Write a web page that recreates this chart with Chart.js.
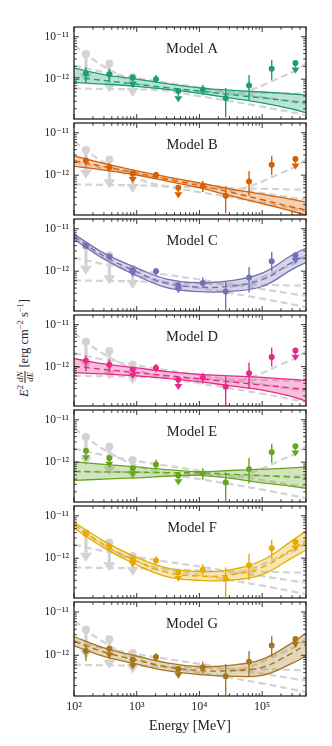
<!DOCTYPE html>
<html>
<head>
<meta charset="utf-8">
<script src="https://cdn.jsdelivr.net/npm/chart.js@4.4.1/dist/chart.umd.min.js"></script>
<style>
  body { margin: 0; background: #fff; }
  #wrap { position: relative; width: 332px; height: 746px; overflow: hidden;
          font-family: "Liberation Serif", "DejaVu Serif", serif; color: #222; }
  #wrap canvas { position: absolute; left: 0; }
  #ylabel { position: absolute; left: 25px; top: 348px; white-space: nowrap; font-size: 12.5px;
            transform: translate(-50%, -50%) rotate(-90deg); }
  #ylabel sup { font-size: 0.68em; line-height: 0; }
  .frac { display: inline-block; vertical-align: middle; text-align: center; font-size: 9px;
          line-height: 9px; margin: 0 3px 0 2px; }
  .frac span { display: block; padding: 0 1px; }
  .frac span:first-child { border-bottom: 0.8px solid #222; }
</style>
</head>
<body>
<div id="wrap">
  <div id="ylabel"><i>E</i><sup>2</sup><span class="frac"><span><i>dN</i></span><span><i>dE</i></span></span>[erg cm<sup>−2</sup> s<sup>−1</sup>]</div>
</div>
<script>
// fluxes below are in units of 1e-12 erg cm^-2 s^-1
const FLUX_UNIT = 1e-12;

const modelNames = ["Model A", "Model B", "Model C", "Model D", "Model E", "Model F", "Model G"];
const modelColors = ["#1b9e77", "#d95f02", "#7570b3", "#e7298a", "#66a61e", "#e6ab02", "#a6761d"];

const xTickValues = [1e2, 1e3, 1e4, 1e5];
const xTickLabels = ["10²", "10³", "10⁴", "10⁵"];
const yTickValues = [1e-11, 1e-12];
const yTickLabels = ["10⁻¹¹", "10⁻¹²"];

// spectral points (same energies in every panel)
const pointEnergy = [155, 366, 863, 2030, 4610, 11300, 26200, 61800, 142000, 339000];
const pointFlux = [
  [1.36, 1.30, 1.09, 1.00, 0.525, 0.573, 0.354, 0.705, 1.77, 2.42],
  [2.21, 1.55, 1.10, 1.01, 0.506, 0.55, 0.327, 0.713, 1.76, 2.41],
  [4.0, 2.22, 1.05, 1.0, 0.466, 0.527, 0.33, 0.705, 1.71, 2.38],
  [1.38, 1.10, 0.85, 0.93, 0.488, 0.553, 0.329, 0.691, 1.70, 2.41],
  [1.86, 1.25, 0.72, 0.887, 0.483, 0.544, 0.33, 0.683, 1.71, 2.38],
  [3.72, 1.92, 0.93, 0.88, 0.466, 0.533, 0.329, 0.68, 1.71, 2.41],
  [1.26, 1.41, 0.79, 0.92, 0.485, 0.527, 0.33, 0.709, 1.69, 2.38]
];
const pointHigh = [
  [1.92, 1.77, 1.09, 1.25, 0.525, 0.743, 0.626, 1.25, 2.83, 2.42],
  [2.62, 1.91, 1.10, 1.20, 0.506, 0.74, 0.55, 1.26, 2.86, 2.41],
  [4.58, 2.51, 1.05, 1.19, 0.466, 0.705, 0.573, 1.25, 2.83, 2.38],
  [1.85, 1.48, 0.85, 1.16, 0.488, 0.716, 0.60, 1.25, 2.86, 2.41],
  [1.86, 1.25, 0.72, 1.15, 0.483, 0.72, 0.573, 1.25, 2.73, 2.38],
  [4.26, 2.29, 0.93, 1.10, 0.466, 0.716, 0.604, 1.27, 2.73, 2.41],
  [1.78, 1.41, 0.79, 1.12, 0.485, 0.709, 0.629, 1.26, 2.74, 2.38]
];
const pointLow = [
  [0.81, 0.88, 0.626, 0.81, 0.287, 0.42, 0.125, 0.312, 0.964, 1.36],
  [1.70, 1.20, 0.656, 0.81, 0.286, 0.40, 0.126, 0.327, 1.01, 1.36],
  [3.54, 1.93, 0.743, 0.78, 0.303, 0.392, 0.12, 0.314, 1.0, 1.49],
  [0.78, 0.735, 0.506, 0.735, 0.276, 0.39, 0.116, 0.301, 1.01, 1.38],
  [1.05, 0.743, 0.442, 0.683, 0.287, 0.386, 0.12, 0.314, 0.964, 1.36],
  [3.24, 1.56, 0.604, 0.716, 0.277, 0.39, 0.12, 0.301, 0.964, 1.43],
  [0.75, 0.84, 0.468, 0.743, 0.289, 0.374, 0.12, 0.314, 0.934, 1.49]
];
const upperLimit = [
  [0, 0, 1, 0, 1, 0, 0, 0, 0, 1],
  [0, 0, 1, 0, 1, 0, 0, 0, 0, 1],
  [0, 0, 1, 0, 1, 0, 0, 0, 0, 1],
  [0, 0, 1, 0, 1, 0, 0, 0, 0, 1],
  [1, 1, 1, 0, 1, 0, 0, 0, 0, 1],
  [0, 0, 1, 0, 1, 0, 0, 0, 0, 1],
  [0, 1, 1, 0, 1, 0, 0, 0, 0, 1]
];

// model fits: central curve and band edges
const modelEnergy = [1e2, 3e2, 1e3, 3e3, 1e4, 3e4, 1e5, 3e5, 5e5];
const modelMid = [
  [1.11, 0.93, 0.763, 0.632, 0.525, 0.435, 0.361, 0.303, 0.277],
  [2.21, 1.59, 1.13, 0.804, 0.57, 0.403, 0.263, 0.178, 0.15],
  [6.5, 2.28, 0.964, 0.517, 0.42, 0.442, 0.626, 1.62, 2.38],
  [1.01, 0.86, 0.716, 0.61, 0.511, 0.435, 0.363, 0.309, 0.286],
  [0.607, 0.59, 0.58, 0.568, 0.556, 0.52, 0.483, 0.445, 0.428],
  [6.04, 2.10, 0.85, 0.466, 0.378, 0.399, 0.604, 1.62, 2.63],
  [2.12, 1.19, 0.775, 0.544, 0.445, 0.442, 0.527, 1.13, 1.78]
];
const modelUp = [
  [1.82, 1.28, 1.0, 0.783, 0.626, 0.553, 0.498, 0.447, 0.42],
  [2.86, 1.89, 1.26, 0.915, 0.656, 0.478, 0.357, 0.27, 0.232],
  [7.47, 2.66, 1.19, 0.652, 0.535, 0.588, 0.90, 2.40, 3.52],
  [1.56, 1.16, 0.93, 0.763, 0.656, 0.604, 0.553, 0.496, 0.463],
  [1.02, 0.892, 0.771, 0.67, 0.594, 0.636, 0.683, 0.731, 0.771],
  [7.06, 2.53, 1.04, 0.588, 0.478, 0.53, 0.892, 2.59, 4.42],
  [2.70, 1.48, 0.964, 0.67, 0.553, 0.588, 0.81, 1.94, 3.27]
];
const modelLow = [
  [0.838, 0.763, 0.68, 0.573, 0.466, 0.363, 0.277, 0.198, 0.162],
  [1.61, 1.32, 1.01, 0.724, 0.506, 0.332, 0.213, 0.141, 0.114],
  [5.64, 1.94, 0.783, 0.409, 0.329, 0.332, 0.435, 1.10, 1.61],
  [0.716, 0.67, 0.60, 0.522, 0.44, 0.35, 0.276, 0.193, 0.15],
  [0.372, 0.399, 0.428, 0.466, 0.49, 0.42, 0.325, 0.27, 0.242],
  [5.16, 1.75, 0.691, 0.369, 0.30, 0.30, 0.409, 1.015, 1.56],
  [1.65, 0.95, 0.623, 0.442, 0.357, 0.332, 0.343, 0.652, 0.97]
];

// grey reference curves and limits (identical in all panels)
const greyEnergy = [1e2, 3e2, 1e3, 3e3, 1e4, 3e4, 1e5, 3e5, 5e5];
const greySteep = [6.26, 1.99, 0.825, 0.544, 0.399, 0.307, 0.225, 0.165, 0.141];
const greyMid = [2.10, 1.46, 1.07, 0.825, 0.636, 0.49, 0.378, 0.292, 0.263];
const greyFlat = [0.604, 0.588, 0.573, 0.544, 0.517, 0.49, 0.478, 0.46, 0.454];
const greyRiseEnergy = [3e4, 5e4, 1e5, 2e5, 3.5e5, 5e5];
const greyRise = [0.42, 0.49, 0.705, 1.13, 1.62, 2.38];
const greyLimitEnergy = [155, 366, 863];
const greyLimit = [3.92, 2.34, 1.13];
const greyLimitTip = [0.825, 0.49, 0.378];

const X_MIN = 1e2, X_MAX = 5e5, Y_MIN = 1.15e-13, Y_MAX = 1.7e-11;
const PANEL_TOP = 25, PANEL_H = 95.86, AXIS_LEFT = 74, AXIS_RIGHT = 306, WIDTH = 332, HEIGHT = 746;
const GREY = "#d3d3d3";
const INK = "#222";

function rgba(hex, a) {
  const n = parseInt(hex.slice(1), 16);
  return `rgba(${n >> 16}, ${(n >> 8) & 255}, ${n & 255}, ${a})`;
}
function toPoints(xs, ys) {
  return xs.map((e, k) => ({ x: e, y: ys[k] * FLUX_UNIT }));
}

// vertical error bars / upper-limit arrows, drawn right after their dataset
const errorBars = {
  id: "errorBars",
  afterDatasetDraw(chart, args) {
    const ds = chart.data.datasets[args.index];
    if (!ds.errHi) return;
    const { ctx, chartArea: a, scales: { x, y } } = chart;
    ctx.save();
    ctx.beginPath();
    ctx.rect(a.left, a.top, a.right - a.left, a.bottom - a.top);
    ctx.clip();
    ctx.strokeStyle = ds.barColor;
    ctx.fillStyle = ds.barColor;
    ctx.lineWidth = ds.barWidth;
    ds.data.forEach((p, k) => {
      const px = x.getPixelForValue(p.x);
      const y0 = y.getPixelForValue(ds.errHi[k] * FLUX_UNIT);
      const y1 = y.getPixelForValue(ds.errLo[k] * FLUX_UNIT);
      ctx.beginPath();
      ctx.moveTo(px, y0);
      ctx.lineTo(px, ds.ul[k] ? y1 - ds.arrow[1] : y1);
      ctx.stroke();
      if (ds.ul[k]) {
        const [w, h] = ds.arrow;
        ctx.beginPath();
        ctx.moveTo(px - w / 2, y1 - h);
        ctx.lineTo(px + w / 2, y1 - h);
        ctx.lineTo(px, y1);
        ctx.closePath();
        ctx.fill();
      }
    });
    ctx.restore();
  }
};

// frame with inward ticks on all sides + panel label
const frame = {
  id: "frame",
  afterDraw(chart, args, opts) {
    const { ctx, chartArea: a, scales: { x, y } } = chart;
    const xMinor = [], yMinor = [];
    [1e2, 1e3, 1e4, 1e5].forEach(d => { for (let k = 2; k < 10; k++) if (k * d <= X_MAX) xMinor.push(k * d); });
    [1e-13, 1e-12, 1e-11].forEach(d => { for (let k = 2; k < 10; k++) if (k * d >= Y_MIN && k * d <= Y_MAX) yMinor.push(k * d); });
    ctx.save();
    ctx.strokeStyle = INK;
    ctx.lineWidth = 0.9;
    const seg = (x0, y0, x1, y1) => { ctx.beginPath(); ctx.moveTo(x0, y0); ctx.lineTo(x1, y1); ctx.stroke(); };
    const xt = (v, len) => { const px = x.getPixelForValue(v); seg(px, a.bottom, px, a.bottom - len); seg(px, a.top, px, a.top + len); };
    const yt = (v, len) => { const py = y.getPixelForValue(v); seg(a.left, py, a.left + len, py); seg(a.right, py, a.right - len, py); };
    xTickValues.forEach(v => xt(v, 5));
    xMinor.forEach(v => xt(v, 2.8));
    yTickValues.forEach(v => yt(v, 5));
    yMinor.forEach(v => yt(v, 2.8));
    ctx.lineWidth = 1.3;
    ctx.strokeRect(a.left, a.top, a.right - a.left, a.bottom - a.top);
    ctx.fillStyle = INK;
    ctx.font = '14.5px "Liberation Serif", "DejaVu Serif", serif';
    ctx.textAlign = "center";
    ctx.textBaseline = "middle";
    ctx.fillText(opts.label, (a.left + a.right) / 2 + 2, a.top + 22);
    ctx.restore();
  }
};

const wrap = document.getElementById("wrap");

modelNames.forEach((name, i) => {
  const last = i === modelNames.length - 1;
  const top = Math.round(PANEL_TOP + i * PANEL_H);
  const bottom = Math.round(PANEL_TOP + (i + 1) * PANEL_H);
  const canvasTop = top - 2;
  const canvas = document.createElement("canvas");
  canvas.width = WIDTH;
  canvas.height = last ? HEIGHT - canvasTop : bottom - top + 4;
  canvas.style.top = canvasTop + "px";
  wrap.appendChild(canvas);

  const c = modelColors[i];
  const band = { showLine: true, borderColor: c, borderWidth: 1.3, pointRadius: 0, tension: 0.4 };
  const greyLine = { showLine: true, borderColor: GREY, borderWidth: 2.2, borderDash: [7, 4], pointRadius: 0, tension: 0.4 };

  new Chart(canvas, {
    type: "scatter",
    data: {
      datasets: [
        { data: toPoints(pointEnergy, pointFlux[i]), pointRadius: 3, backgroundColor: c, borderWidth: 0,
          errHi: pointHigh[i], errLo: pointLow[i], ul: upperLimit[i], barColor: c, barWidth: 1.4, arrow: [8, 6], order: 0 },
        { data: toPoints(modelEnergy, modelMid[i]), ...band, borderDash: [6, 4], borderWidth: 1.4, order: 1 },
        { data: toPoints(modelEnergy, modelUp[i]), ...band, fill: "+1", backgroundColor: rgba(c, 0.3), order: 2 },
        { data: toPoints(modelEnergy, modelLow[i]), ...band, order: 3 },
        { data: toPoints(greyLimitEnergy, greyLimit), pointRadius: 4, backgroundColor: GREY, borderWidth: 0,
          errHi: greyLimit, errLo: greyLimitTip, ul: [1, 1, 1], barColor: GREY, barWidth: 3.2, arrow: [12, 9], order: 4 },
        { data: toPoints(greyEnergy, greySteep), ...greyLine, order: 5 },
        { data: toPoints(greyEnergy, greyMid), ...greyLine, order: 6 },
        { data: toPoints(greyEnergy, greyFlat), ...greyLine, order: 7 },
        { data: toPoints(greyRiseEnergy, greyRise), ...greyLine, order: 8 }
      ]
    },
    options: {
      responsive: false,
      animation: false,
      devicePixelRatio: 1,
      layout: { padding: { left: 0, right: WIDTH - AXIS_RIGHT, top: 2, bottom: last ? 0 : 2 } },
      scales: {
        x: {
          type: "logarithmic", min: X_MIN, max: X_MAX, display: last,
          grid: { display: false, drawTicks: false }, border: { display: false },
          afterBuildTicks: s => { s.ticks = xTickValues.map(v => ({ value: v })); },
          afterFit: s => { s.height = last ? 50 : 0; s.paddingLeft = 0; s.paddingRight = 0; },
          ticks: {
            autoSkip: false, maxRotation: 0, padding: 4, color: INK,
            font: { family: '"Liberation Serif", "DejaVu Serif", serif', size: 12 },
            callback: v => xTickLabels[xTickValues.indexOf(v)]
          },
          title: {
            display: last, text: "Energy [MeV]", color: INK, padding: { top: 0, bottom: 11 },
            font: { family: '"Liberation Serif", "DejaVu Serif", serif', size: 14 }
          }
        },
        y: {
          type: "logarithmic", min: Y_MIN, max: Y_MAX,
          grid: { display: false, drawTicks: false }, border: { display: false },
          afterBuildTicks: s => { s.ticks = yTickValues.map(v => ({ value: v })); },
          afterFit: s => { s.width = AXIS_LEFT; s.paddingTop = 0; s.paddingBottom = 0; },
          ticks: {
            autoSkip: false, padding: 5, color: INK,
            font: { family: '"Liberation Serif", "DejaVu Serif", serif', size: 11.5 },
            callback: v => yTickLabels[yTickValues.indexOf(v)]
          }
        }
      },
      plugins: {
        legend: { display: false },
        tooltip: { enabled: false },
        frame: { label: name }
      }
    },
    plugins: [errorBars, frame]
  });
});
</script>
</body>
</html>
